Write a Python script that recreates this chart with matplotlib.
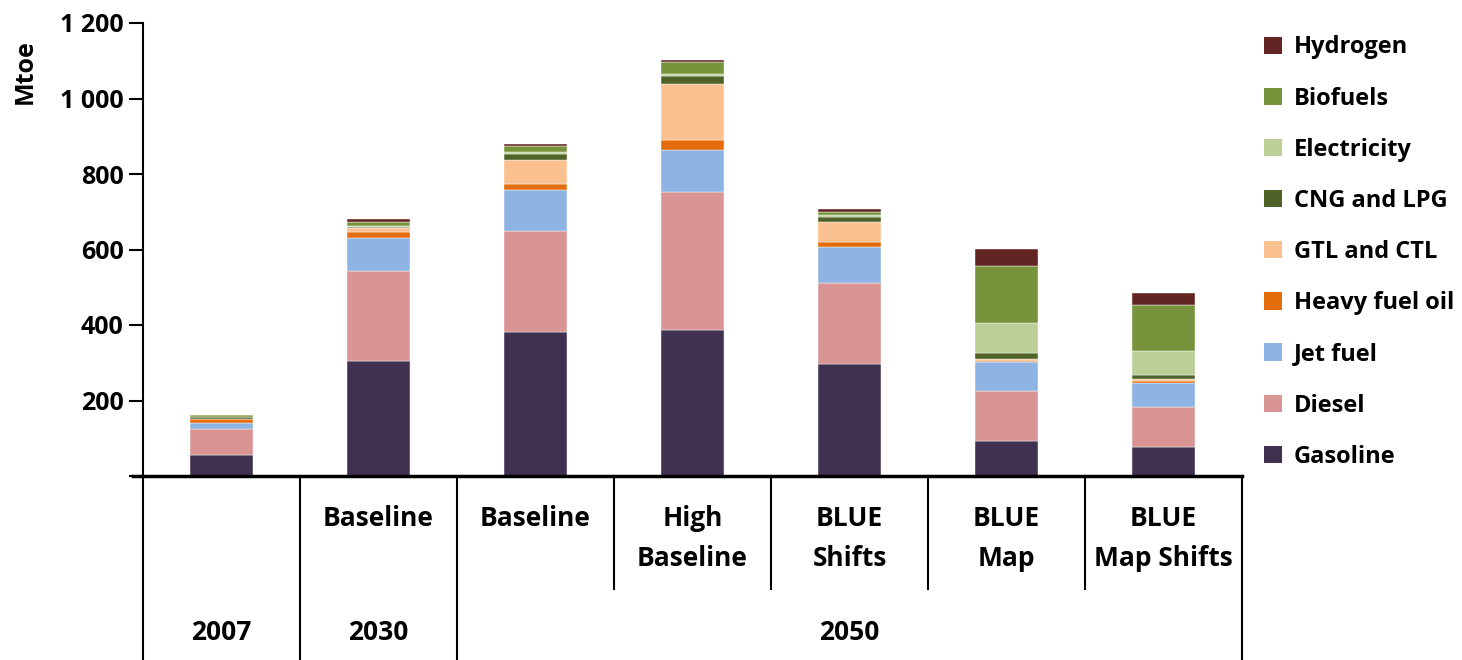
import numpy as np
import matplotlib
matplotlib.use("Agg")
import matplotlib.pyplot as plt
from matplotlib.patches import Patch

plt.rcParams["font.family"] = ["Open Sans", "DejaVu Sans"]
plt.rcParams["font.weight"] = "bold"

# Scenarios (bottom axis rows)
scenarios = ["", "Baseline", "Baseline", "High\nBaseline", "BLUE\nShifts", "BLUE\nMap", "BLUE\nMap Shifts"]
years = ["2007", "2030", "2050"]
year_span = [(0, 0), (1, 1), (2, 6)]

fuels = ["Gasoline", "Diesel", "Jet fuel", "Heavy fuel oil", "GTL and CTL",
         "CNG and LPG", "Electricity", "Biofuels", "Hydrogen"]
colors = ["#403151", "#D99594", "#8EB4E3", "#E46C0A", "#FAC090",
          "#4F6228", "#BBCF96", "#77933C", "#632523"]

# Mtoe, one list per fuel, one value per scenario
gasoline = [55, 304, 382, 387, 298, 93, 76]
diesel = [69, 238, 266, 366, 212, 132, 106]
jet_fuel = [16, 89, 110, 111, 96, 78, 64]
heavy_fuel_oil = [11, 16, 15, 27, 15, 2, 6]
gtl_ctl = [0, 11, 64, 147, 53, 5, 5]
cng_lpg = [4, 2, 16, 21, 11, 15, 11]
electricity = [1, 3, 5, 6, 6, 79, 63]
biofuels = [6, 11, 16, 31, 9, 153, 121]
hydrogen = [0, 6, 5, 5, 6, 43, 32]

series = [gasoline, diesel, jet_fuel, heavy_fuel_oil, gtl_ctl,
          cng_lpg, electricity, biofuels, hydrogen]

fig = plt.figure(figsize=(14.62, 6.6), dpi=100)
ax = fig.add_axes([143 / 1462, 1 - 476 / 660, (1242 - 143) / 1462, 453 / 660])

x = np.arange(len(scenarios))
bottom = np.zeros(len(scenarios))
for vals, col in zip(series, colors):
    ax.bar(x, vals, width=0.4, bottom=bottom, color=col,
           edgecolor="white", linewidth=0.3)
    bottom += np.array(vals)

ax.set_xlim(-0.5, 6.5)
ax.set_ylim(0, 1200)
ax.set_yticks(range(0, 1201, 200))
ax.set_yticklabels([""] + ["{:,}".format(v).replace(",", " ") for v in range(200, 1201, 200)],
                   fontweight="bold")
ax.tick_params(axis="y", direction="out", length=10, width=1.5, labelsize=18, pad=4)
ax.tick_params(axis="x", length=0, labelbottom=False)
for s in ["top", "right"]:
    ax.spines[s].set_visible(False)
ax.spines["left"].set_linewidth(1.5)
ax.spines["bottom"].set_linewidth(2.5)
ax.spines["bottom"].set_bounds(-0.565, 6.5)

fig.text(25 / 1462, 1 - 72 / 660, "Mtoe", rotation=90, fontsize=18,
         ha="center", va="center", fontweight="bold")

# category table under the axis
tr = ax.get_xaxis_transform()
full = -184 / 453
short = -113 / 453
for b in np.arange(-0.5, 7.0, 1.0):
    y_end = short if 2 < b < 6 else full
    ax.plot([b, b], [0, y_end], color="black", lw=1.5, transform=tr, clip_on=False)

for xi, lab in zip(x, scenarios):
    ax.text(xi, -29 / 453, lab, transform=tr, ha="center", va="top",
            fontsize=19, fontweight="bold", linespacing=1.6)
for yr, (a, b) in zip(years, year_span):
    ax.text((a + b) / 2, -156 / 453, yr, transform=tr, ha="center", va="center",
            fontsize=19, fontweight="bold")

handles = [Patch(facecolor=c, edgecolor="none") for c in colors][::-1]
fig.legend(handles, fuels[::-1], loc="upper left",
           bbox_to_anchor=(1255 / 1462, 1 - 26 / 660), frameon=False,
           fontsize=17, labelspacing=1.15, handlelength=0.75, handleheight=0.75,
           handletextpad=0.5, borderaxespad=0)

fig.savefig("out.png", dpi=100)
